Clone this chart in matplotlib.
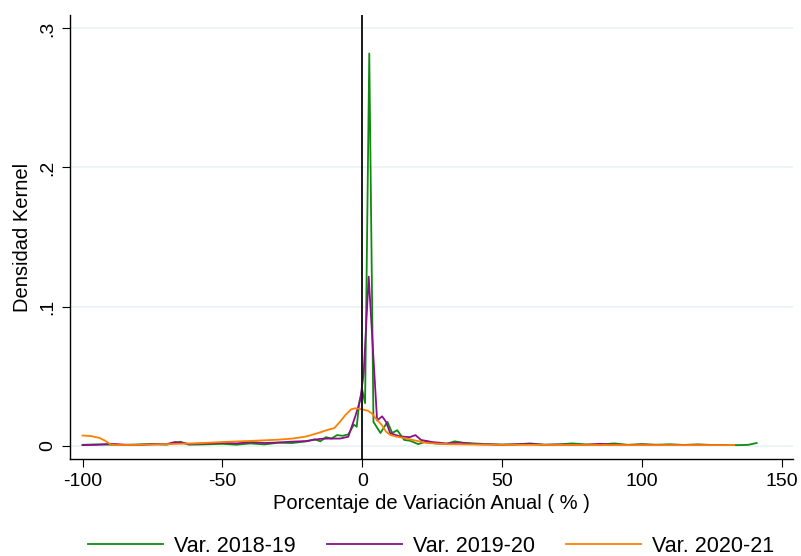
import matplotlib
matplotlib.use('Agg')
import matplotlib.pyplot as plt

# Kernel density curves (x = % change, y = density)
x_1819 = [-100, -95, -90, -85, -80, -75, -70, -65, -62, -57, -50, -45, -40, -35, -30,
          -25, -20, -17, -15, -13, -11, -9, -7, -5, -3, -2, -1, 0, 1, 2.5, 4, 6.5, 9,
          10.7, 12.5, 15, 17, 20, 23, 26, 30, 33, 36, 40, 45, 50, 55, 60, 65, 70, 75,
          80, 85, 90, 95, 100, 105, 110, 115, 120, 125, 130, 135, 138, 141]
y_1819 = [0.0005, 0.0008, 0.0006, 0.0004, 0.0008, 0.0012, 0.0006, 0.0027, 0.0006, 0.0008,
          0.0012, 0.0006, 0.0015, 0.0008, 0.0020, 0.0018, 0.0030, 0.0045, 0.0030, 0.0060,
          0.0050, 0.0075, 0.0070, 0.0080, 0.0150, 0.0135, 0.032, 0.040, 0.0305, 0.282,
          0.017, 0.009, 0.017, 0.009, 0.011, 0.004, 0.0035, 0.001, 0.003, 0.0015, 0.001,
          0.003, 0.002, 0.0015, 0.001, 0.0007, 0.0009, 0.0015, 0.0006, 0.0008, 0.0015,
          0.0008, 0.0006, 0.0015, 0.0005, 0.001, 0.0005, 0.0009, 0.0004, 0.0008, 0.0004,
          0.0003, 0.0003, 0.0005, 0.0018]

x_1920 = [-100, -95, -90, -85, -80, -75, -70, -67, -62, -55, -50, -45, -40, -35, -30,
          -25, -20, -15, -12, -8, -5, -2.5, -0.7, 0.5, 2.3, 3.5, 5.3, 7.1, 8.5, 10,
          13.6, 17, 19, 21, 25, 30, 35, 40, 45, 50, 55, 60, 65, 70, 75, 80, 85, 90,
          95, 100, 110, 120, 130]
y_1920 = [0.0003, 0.0005, 0.0012, 0.0006, 0.0004, 0.0008, 0.0010, 0.0025, 0.0012, 0.0015,
          0.002, 0.0015, 0.0025, 0.0018, 0.0022, 0.0028, 0.0032, 0.0048, 0.0050, 0.0050,
          0.0063, 0.021, 0.033, 0.052, 0.1215, 0.08, 0.018, 0.021, 0.017, 0.0088,
          0.0065, 0.006, 0.0075, 0.004, 0.0025, 0.0015, 0.002, 0.001, 0.0008, 0.0005,
          0.0008, 0.0012, 0.0005, 0.0007, 0.0004, 0.0005, 0.0012, 0.0006, 0.0004,
          0.0006, 0.0004, 0.0005, 0.0003]

x_2021 = [-100, -97, -94, -92, -90, -88, -80, -70, -60, -50, -40, -30, -25, -20, -15,
          -12, -10, -8, -6, -4, -2.5, 0, 2, 3.5, 5, 7, 8.5, 10, 12, 15, 18, 23, 30,
          40, 50, 70, 100, 133]
y_2021 = [0.0072, 0.0068, 0.0055, 0.0035, 0.0008, 0.0003, 0.0005, 0.0010, 0.0015, 0.0025,
          0.0033, 0.0042, 0.0050, 0.0065, 0.0095, 0.0115, 0.0125, 0.017, 0.022, 0.026,
          0.0268, 0.026, 0.025, 0.023, 0.019, 0.0147, 0.010, 0.0076, 0.0065, 0.0054,
          0.004, 0.0018, 0.0010, 0.0007, 0.0005, 0.0004, 0.0003, 0.0003]

labels = ['Var. 2018-19', 'Var. 2019-20', 'Var. 2020-21']
colors = ['#108a10', '#8a108a', '#ff8000']
xticks = [-100, -50, 0, 50, 100, 150]
yticks = [0, 0.1, 0.2, 0.3]
ytick_labels = ['0', '.1', '.2', '.3']

plt.rcParams['font.family'] = ['Liberation Sans', 'DejaVu Sans']
plt.rcParams['axes.unicode_minus'] = False

fig = plt.figure(figsize=(8.01, 5.56), dpi=100)
ax = fig.add_axes([70 / 801, 97 / 556, 723 / 801, 444 / 556])

for y in yticks:
    ax.axhline(y, color='#eaf2f3', lw=1.2, zorder=0)

for xs, ys, c, lab in zip([x_1819, x_1920, x_2021], [y_1819, y_1920, y_2021], colors, labels):
    ax.plot(xs, ys, color=c, lw=1.3, label=lab)

ax.axvline(0, color='#1a1a1a', lw=1.4)

ax.set_xlim(-104.5, 154)
ax.set_ylim(-0.0097, 0.3097)
ax.set_xticks(xticks)
ax.set_yticks(yticks)
ax.set_yticklabels(ytick_labels, rotation=90, va='center')
ax.tick_params(labelsize=14, length=6, width=0.8, colors='#000000', pad=4)
for s in ['top', 'right']:
    ax.spines[s].set_visible(False)
for s in ['left', 'bottom']:
    ax.spines[s].set_linewidth(1.0)

ax.set_xlabel('Porcentaje de Variación Anual ( % )', fontsize=14.5, labelpad=3)
ax.set_ylabel('Densidad Kernel', fontsize=14.5, labelpad=5)

fig.legend(loc='center', bbox_to_anchor=(431 / 801, 1 - 546 / 556), ncol=3, frameon=False,
           fontsize=15.5, handlelength=3.5, handletextpad=0.5, columnspacing=1.45,
           borderpad=0, borderaxespad=0)

plt.savefig('out.png', dpi=100, facecolor='white')
plt.close()
